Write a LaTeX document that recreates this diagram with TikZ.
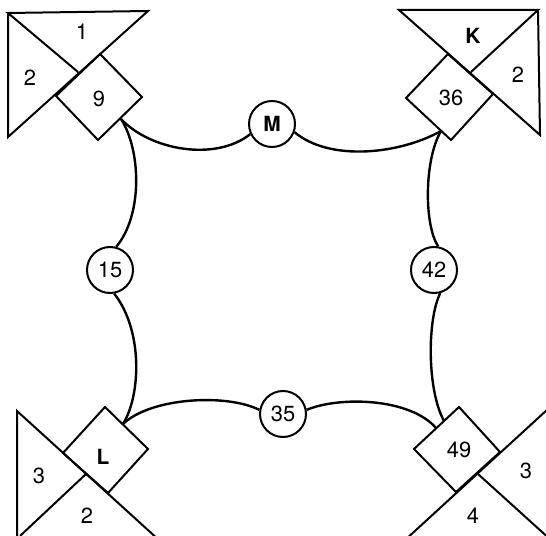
\documentclass[tikz,border=0pt]{standalone}
\usepackage{fontspec}
\setmainfont{TeX Gyre Heros}
\begin{document}
\begin{tikzpicture}[x=1bp,y=-1bp,
  shapeline/.style={line width=2bp, line join=miter},
  arcline/.style={line width=2.4bp},
  num/.style={inner sep=0pt, font=\fontsize{22}{24}\selectfont},
  bnum/.style={inner sep=0pt, font=\fontsize{21}{24}\selectfont\bfseries},
  ring/.style={circle, draw, line width=2bp, minimum size=46bp, inner sep=0pt, font=\fontsize{22}{24}\selectfont}]
\useasboundingbox (0,0) rectangle (546,536);
\clip (0,0) rectangle (546,536);

% ---------- top left ----------
\coordinate (tlA) at (8,13);
\coordinate (tlB) at (148,11);
\coordinate (tlC) at (8,137);
\coordinate (tlX) at (78,72);
\draw[shapeline] (tlX) -- (tlA) -- (tlB) -- (tlC) -- (tlA);
\coordinate (d9t) at (100,54);
\coordinate (d9r) at (142,97);
\coordinate (d9b) at (98,140);
\coordinate (d9l) at (56,96);
\draw[shapeline] (d9t) -- (d9r) -- (d9b) -- (d9l) -- cycle;
\node[num] (tl1) at (82,32) {1};
\node[num] (tl2) at (30,78) {2};
\node[num] (tl9) at (99,99) {9};
\coordinate (a9) at (121,119);

% ---------- top right ----------
\coordinate (trA) at (399,10);
\coordinate (trB) at (538,10);
\coordinate (trC) at (540,135);
\coordinate (trX) at (471,72);
\draw[shapeline] (trX) -- (trB) -- (trA) -- (trC) -- (trB);
\coordinate (d36t) at (448,54);
\coordinate (d36r) at (493,94);
\coordinate (d36b) at (451,140);
\coordinate (d36l) at (406,98);
\draw[shapeline] (d36t) -- (d36r) -- (d36b) -- (d36l) -- cycle;
\node[bnum] (trK) at (473,36) {K};
\node[num] (tr2) at (518,75) {2};
\node[num] (tr36) at (451,98) {36};
\coordinate (a36) at (441,131);

% ---------- bottom left ----------
\coordinate (blA) at (17,411);
\coordinate (blB) at (17,540);
\coordinate (blC) at (160,541);
\coordinate (blD) at (20,536);
\coordinate (blX) at (86,474);
\draw[shapeline] (blB) -- (blA) -- (blC);
\draw[shapeline] (blD) -- (blX);
\coordinate (dLt) at (105,407);
\coordinate (dLr) at (148,449);
\coordinate (dLb) at (108,493);
\coordinate (dLl) at (63,453);
\draw[shapeline] (dLt) -- (dLr) -- (dLb) -- (dLl) -- cycle;
\node[num] (bl3) at (39,476) {3};
\node[num] (bl2) at (87,516) {2};
\node[bnum] (blL) at (103,457) {L};
\coordinate (aL) at (123,424);

% ---------- bottom right ----------
\coordinate (brA) at (548,409);
\coordinate (brB) at (404,541);
\coordinate (brX) at (478,474);
\coordinate (brC) at (552,541);
\draw[shapeline] (brA) -- (brB);
\draw[shapeline] (brX) -- (brC);
\coordinate (d49t) at (459,407);
\coordinate (d49r) at (500,452);
\coordinate (d49b) at (456,492);
\coordinate (d49l) at (414,449);
\draw[shapeline] (d49t) -- (d49r) -- (d49b) -- (d49l) -- cycle;
\node[num] (br49) at (459,450) {49};
\node[num] (br3) at (526,471) {3};
\node[num] (br4) at (473,516) {4};
\coordinate (a49h) at (436,428);
\coordinate (a49v) at (444,421);

% ---------- circles ----------
\node[ring, font=\fontsize{21}{24}\selectfont\bfseries] (cM) at (272,124) {M};
\node[ring] (c15) at (110,270) {15};
\node[ring] (c42) at (434,270) {42};
\node[ring] (c35) at (283,414) {35};

% ---------- arcs ----------
\draw[arcline] (a9) .. controls (150,150) and (215,162) .. (cM.205);
\draw[arcline] (cM.340) .. controls (330,162) and (400,154) .. (a36);
\draw[arcline] (a9) .. controls (141,150) and (143,215) .. (c15.75);
\draw[arcline] (c15.280) .. controls (143,330) and (141,395) .. (aL);
\draw[arcline] (aL) .. controls (150,398) and (225,393) .. (c35.170);
\draw[arcline] (c35.10) .. controls (340,396) and (410,398) .. (a49h);
\draw[arcline] (a36) .. controls (424,160) and (424,225) .. (c42.80);
\draw[arcline] (c42.285) .. controls (427,320) and (427,390) .. (a49v);
\end{tikzpicture}
\end{document}
